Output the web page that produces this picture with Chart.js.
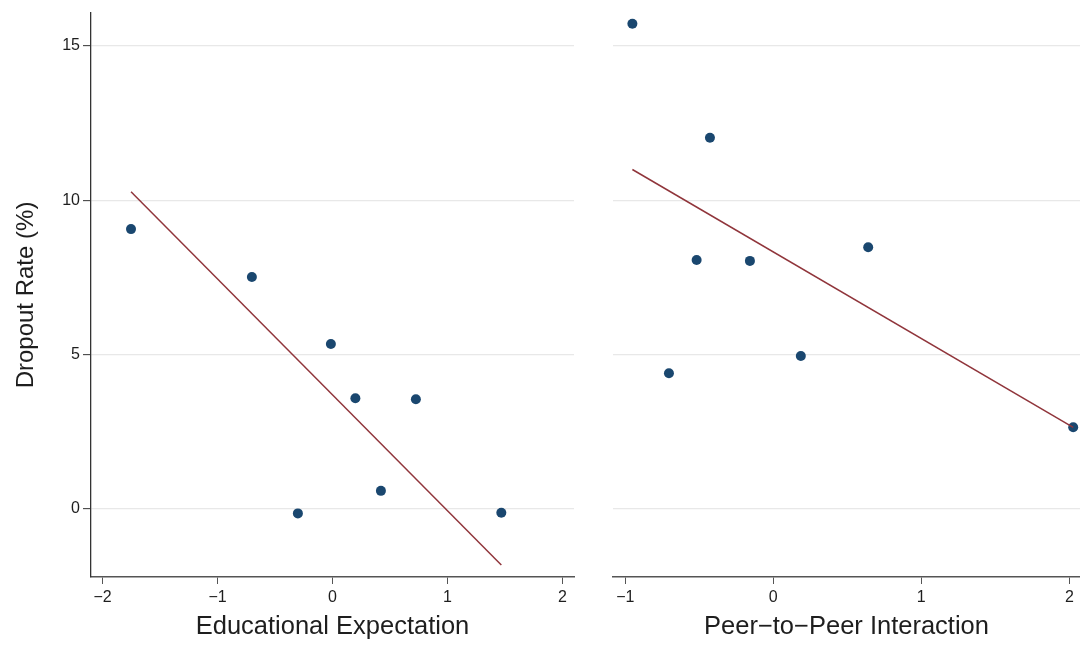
<!DOCTYPE html>
<html>
<head>
<meta charset="utf-8">
<title>Dropout Rate</title>
<script src="https://cdn.jsdelivr.net/npm/chart.js@4.4.1/dist/chart.umd.min.js"></script>
<style>
  html, body { margin: 0; padding: 0; background: #ffffff; }
  #wrap { position: relative; width: 1080px; height: 647px; overflow: hidden; }
  .panel { position: absolute; top: 0; height: 647px; }
</style>
</head>
<body>
<div id="wrap">
  <div class="panel" style="left:0;width:590px"><canvas id="expectChart" width="590" height="647"></canvas></div>
  <div class="panel" style="left:590px;width:490px"><canvas id="peerChart" width="490" height="647"></canvas></div>
</div>
<script>
// Dropout rate (%) against educational expectation (standardized)
const expectX       = [-1.752, -0.701, -0.014, 0.199, 0.725, 0.421, -0.301, 1.468];
const expectDropout = [9.07, 7.52, 5.35, 3.59, 3.56, 0.59, -0.14, -0.12];
// Fitted line endpoints
const expectFitX = [-1.752, 1.468];
const expectFitY = [10.28, -1.81];

// Dropout rate (%) against peer-to-peer interaction (standardized)
const peerX       = [-0.952, -0.428, -0.518, -0.158, 0.641, -0.705, 0.186, 2.026];
const peerDropout = [15.72, 12.03, 8.07, 8.04, 8.48, 4.40, 4.96, 2.65];
const peerFitX = [-0.952, 2.026];
const peerFitY = [11.00, 2.65];

// Tick labels
const yTicks      = [0, 5, 10, 15];
const expectTicks = [-2, -1, 0, 1, 2];
const peerTicks   = [-1, 0, 1, 2];

const FONT = "'Liberation Sans', Arial, Helvetica, sans-serif";
const TEXT = '#1e1e1e';
const DOT = '#1a476f';
const FIT = '#90353b';
const GRID = '#e8e8e8';

const fmt = v => (v < 0 ? '\u2212' + Math.abs(v) : String(v));
const toPoints = (xs, ys) => xs.map((x, i) => ({ x: x, y: ys[i] }));
const fixedTicks = list => scale => { scale.ticks = list.map(v => ({ value: v })); };

function makePanel(id, cfg) {
  const ctx = document.getElementById(id);
  return new Chart(ctx, {
    type: 'scatter',
    data: {
      datasets: [
        {
          type: 'line',
          data: toPoints(cfg.fitX, cfg.fitY),
          borderColor: FIT,
          borderWidth: 1.5,
          pointRadius: 0,
          fill: false,
          tension: 0,
          order: 0,
          clip: false
        },
        {
          type: 'scatter',
          data: toPoints(cfg.xs, cfg.ys),
          backgroundColor: DOT,
          borderColor: DOT,
          borderWidth: 0,
          pointRadius: 5,
          order: 1,
          clip: false
        }
      ]
    },
    options: {
      responsive: false,
      animation: false,
      events: [],
      layout: { padding: cfg.padding, autoPadding: false },
      plugins: {
        legend: { display: false },
        tooltip: { enabled: false },
        title: { display: false }
      },
      scales: {
        x: {
          type: 'linear',
          min: cfg.xMin,
          max: cfg.xMax,
          afterBuildTicks: fixedTicks(cfg.xTicks),
          afterFit: s => { s.height = 70; s.paddingLeft = 0; s.paddingRight = 0; },
          border: { display: true, color: '#555555', width: 1.5 },
          grid: {
            drawOnChartArea: false,
            drawTicks: true,
            tickLength: 7,
            tickColor: '#555555',
            tickWidth: 1
          },
          ticks: {
            font: { family: FONT, size: 16 },
            color: TEXT,
            padding: 4,
            maxRotation: 0,
            autoSkip: false,
            callback: v => fmt(v)
          },
          title: {
            display: true,
            text: cfg.xTitle,
            font: { family: FONT, size: 25.5 },
            color: TEXT,
            padding: { top: 0, bottom: 5 }
          }
        },
        y: {
          type: 'linear',
          min: -2.2,
          max: 16.07,
          afterBuildTicks: fixedTicks(yTicks),
          afterFit: s => { s.width = cfg.yWidth; s.paddingTop = 0; s.paddingBottom = 0; },
          border: { display: cfg.showY, color: '#333333', width: 1.3 },
          grid: {
            color: GRID,
            lineWidth: 1.3,
            drawTicks: cfg.showY,
            tickLength: 8,
            tickColor: '#333333',
            tickWidth: 1
          },
          ticks: {
            display: cfg.showY,
            font: { family: FONT, size: 16 },
            color: TEXT,
            padding: 3,
            callback: v => fmt(v)
          },
          title: {
            display: cfg.showY,
            text: 'Dropout Rate (%)',
            font: { family: FONT, size: 24 },
            color: TEXT,
            padding: { top: 12, bottom: 0 }
          }
        }
      }
    }
  });
}

makePanel('expectChart', {
  xs: expectX, ys: expectDropout,
  fitX: expectFitX, fitY: expectFitY,
  xMin: -2.1, xMax: 2.1, xTicks: expectTicks,
  xTitle: 'Educational Expectation',
  showY: true, yWidth: 91,
  padding: { top: 13, right: 16, bottom: 0, left: 0 }
});

makePanel('peerChart', {
  xs: peerX, ys: peerDropout,
  fitX: peerFitX, fitY: peerFitY,
  xMin: -1.083, xMax: 2.072, xTicks: peerTicks,
  xTitle: 'Peer\u2212to\u2212Peer Interaction',
  showY: false, yWidth: 23,
  padding: { top: 13, right: 0, bottom: 0, left: 0 }
});
</script>
</body>
</html>
